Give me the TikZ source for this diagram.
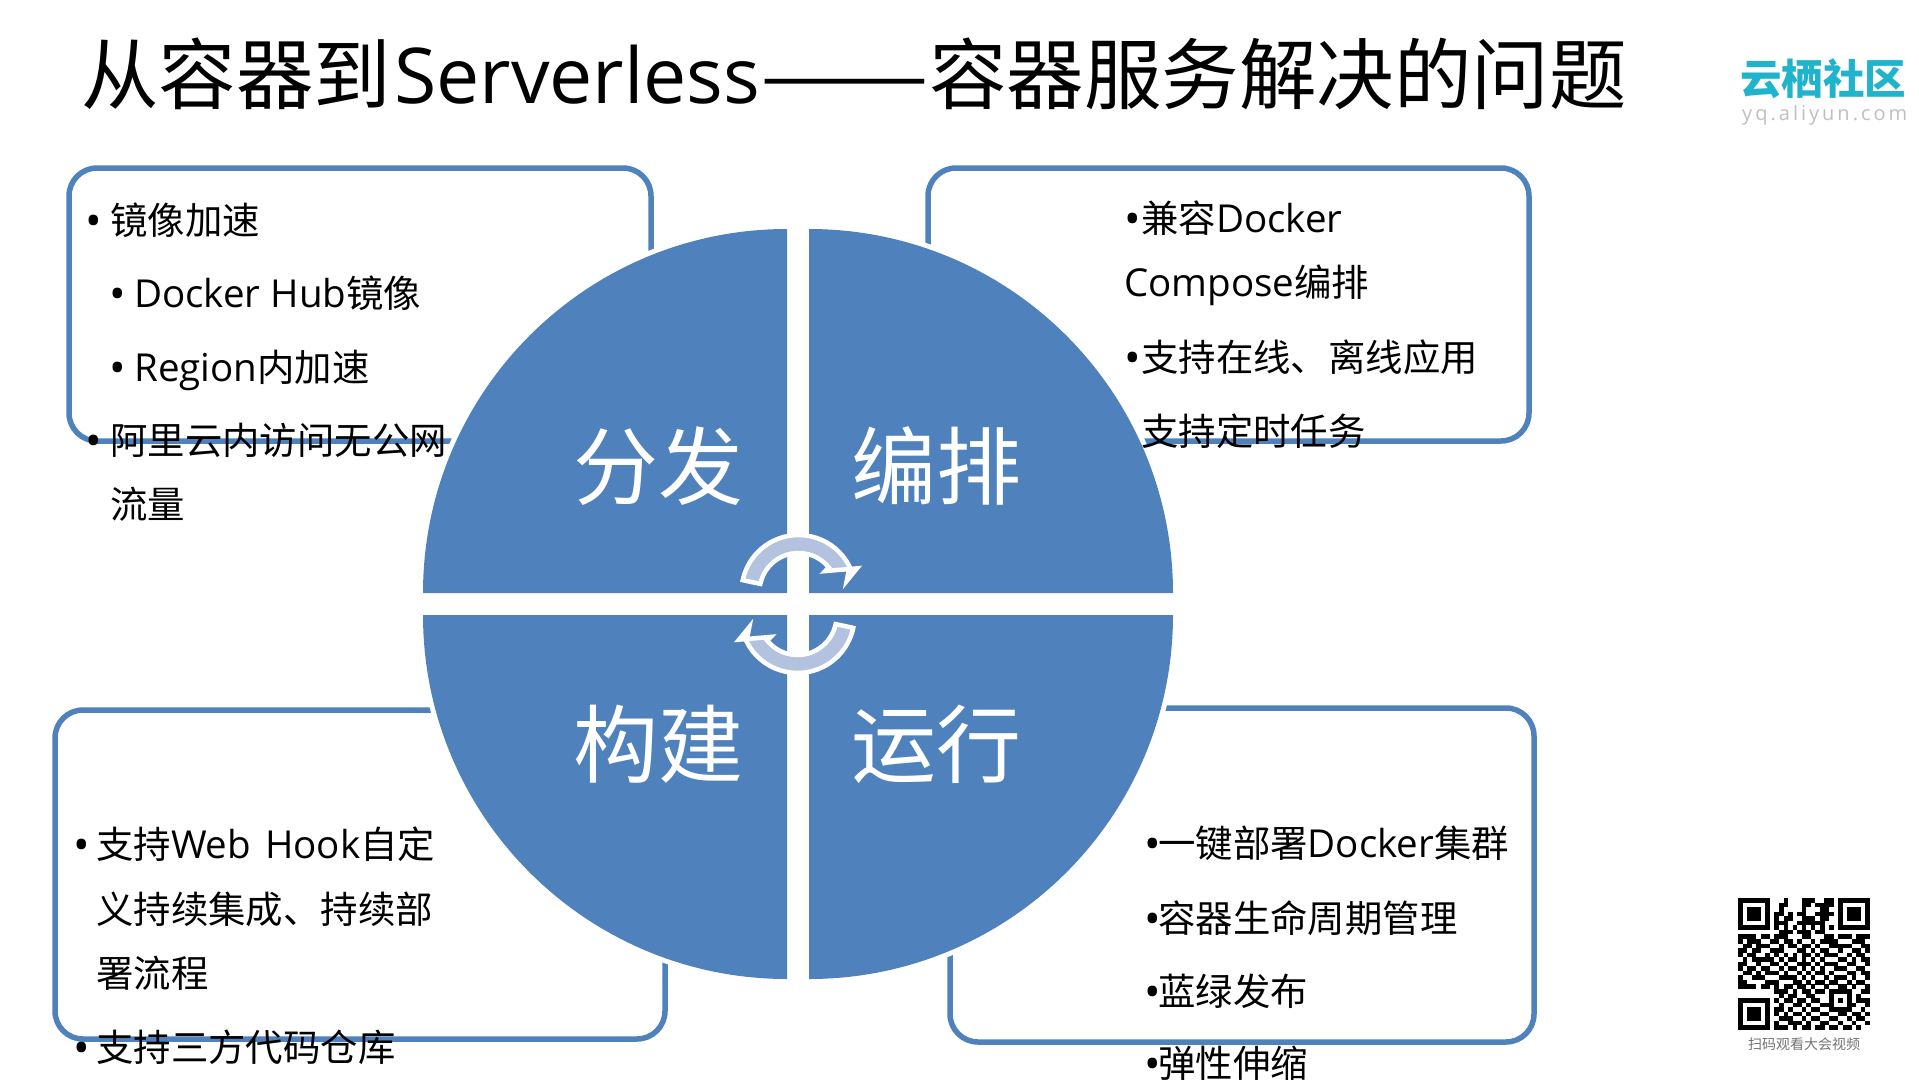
\documentclass[tikz,border=0pt]{standalone}
\usepackage{fontspec}
\setmainfont{Noto Sans CJK SC}
\newfontfamily\latfont{Open Sans}
\newfontfamily\itemfont[Scale=1.03]{Open Sans}
\newfontfamily\logofont[LetterSpace=15]{Open Sans}
\definecolor{boxblue}{HTML}{4F81BD}
\definecolor{ringblue}{HTML}{B3C2DE}
\definecolor{logoteal}{HTML}{1FB3CC}
\newcommand{\fsize}[1]{\fontsize{#1}{#1}\selectfont}
\newcommand{\itembul}[1]{\makebox[#1][l]{\raisebox{-2.6pt}{\latfont\fsize{44}•}}}
\tikzset{
	itemtext/.style={anchor=base west,inner sep=0pt,font=\fsize{37.4}},
	quadtext/.style={inner sep=0pt,text=white,font=\fsize{85}},
	itembox/.style={draw=boxblue,line width=5.5pt,rounded corners=28pt},
	ringarrow/.style={fill=ringblue,draw=white,line width=4.5pt,line join=miter}
}
\begin{document}
\begin{tikzpicture}[x=1pt,y=-1pt]
	\useasboundingbox (0,0) rectangle (1919,1079);
	\node[anchor=base west,inner sep=0pt,font=\fsize{77.5}] (title) at (81,103) {从容器到\hspace{3pt}{\latfont\fsize{77}Serverless}\scalebox{1.3}[1]{——}容器服务解决的问题};
	% boxes behind the circle
	\draw[itembox] (69,168) rectangle (651,441);
	\draw[itembox] (928,168) rectangle (1529,441);
	\draw[itembox] (55,710) rectangle (665,1039);
	\draw[itembox] (950,708) rectangle (1534,1042);
	% four quarters
	\foreach \cx/\cy/\sa in {787/593/180,809/593/270,809/615/0,787/615/90}{
		\fill[white] (\cx,\cy) -- ++(\sa:369) arc[start angle=\sa,delta angle=90,radius=369] -- cycle;
		\fill[boxblue] (\cx,\cy) -- ++(\sa:364) arc[start angle=\sa,delta angle=90,radius=364] -- cycle;
	}
	\node[quadtext] (fenfa) at (658,466) {分发};
	\node[quadtext] (bianpai) at (936,466) {编排};
	\node[quadtext] (goujian) at (658,744) {构建};
	\node[quadtext] (yunxing) at (936,744) {运行};
	% two round arrows
	\foreach \rot in {0,180}{
		\begin{scope}[rotate around={\rot:(798,604)},shift={(798.5,592)}]
			\draw[ringarrow] (192:39) arc[start angle=192,end angle=321,radius=39] -- (322:34) -- (338:63) -- (347:49.5) -- (333.5:57) arc[start angle=333.5,end angle=192,radius=57] -- cycle;
		\end{scope}
	}
	% left top
	\node[itemtext] (jx1) at (85,234) {\itembul{25pt}镜像加速};
	\node[itemtext] (jx2) at (109,307) {\itembul{25pt}{\itemfont Docker Hub}镜像};
	\node[itemtext] (jx3) at (109,381) {\itembul{25pt}{\itemfont Region}内加速};
	\node[itemtext] (jx4) at (85,454) {\itembul{25pt}阿里云内访问无公网};
	\node[itemtext] (jx5) at (110,518) {流量};
	% right top
	\node[itemtext] (bp1) at (1124,232) {\itembul{17pt}兼容{\itemfont Docker}};
	\node[itemtext] (bp2) at (1124,296) {{\itemfont Compose}编排};
	\node[itemtext] (bp3) at (1124,371) {\itembul{17pt}支持在线、离线应用};
	\node[itemtext] (bp4) at (1141,445) {支持定时任务};
	% left bottom
	\node[itemtext] (gj1) at (73,858) {\itembul{23pt}支持{\itemfont Web\hspace{4pt} Hook}自定};
	\node[itemtext] (gj2) at (96,923) {义持续集成、持续部};
	\node[itemtext] (gj3) at (96,987) {署流程};
	\node[itemtext] (gj4) at (73,1061) {\itembul{23pt}支持三方代码仓库};
	% right bottom
	\node[itemtext] (yx1) at (1144,857) {\itembul{14pt}一键部署{\itemfont Docker}集群};
	\node[itemtext] (yx2) at (1144,932) {\itembul{14pt}容器生命周期管理};
	\node[itemtext] (yx3) at (1144,1005) {\itembul{14pt}蓝绿发布};
	\node[itemtext] (yx4) at (1144,1077) {\itembul{14pt}弹性伸缩};
	% logo
	\node[anchor=base west,inner sep=0pt,text=logoteal,font=\fsize{41.5}\bfseries] (logo) at (1740,94) {云栖社区};
	\node[anchor=base west,inner sep=0pt,text=black!25,font=\logofont\fsize{20}] (site) at (1742,120) {yq.aliyun.com};
	% qr code
	\foreach \fx/\fy in {0/0,22/0,0/22}{
		\fill (1738+\fx*4.55,898+\fy*4.55) rectangle ++(31.85,31.85);
		\fill[white] (1738+\fx*4.55+4.55,898+\fy*4.55+4.55) rectangle ++(22.75,22.75);
		\fill (1738+\fx*4.55+9.1,898+\fy*4.55+9.1) rectangle ++(13.65,13.65);
	}
	\foreach \row/\cols in {
		0/{10,14,15,16,19,20},
		1/{9,10,14,15,17,18,19,20},
		2/{9,14,18,19},
		3/{8,9,11,13,14,17,18,19,20},
		4/{8,10,11,14,15,16,18,19},
		5/{8,9,10,13,14,15,16,17,18},
		6/{8,10,12,14,16,18,20},
		7/{9,10,11,13,14,15,17,18},
		8/{0,1,2,3,5,6,8,9,10,14,15,19,20,22,23,24,26,27,28},
		9/{0,2,3,4,7,8,10,11,13,16,18,19,20,21,25,26,27},
		10/{1,2,4,5,6,9,11,12,14,15,17,20,21,22,23,24,27,28},
		11/{0,1,3,4,7,8,9,13,14,16,18,19,22,25,26,28},
		12/{0,2,3,6,8,10,12,14,15,17,19,20,21,24,26,27},
		13/{1,3,4,5,6,7,9,11,12,14,16,18,22,23,25,27,28},
		14/{0,1,4,7,8,10,13,14,15,17,19,20,21,24,25,28},
		15/{0,2,3,5,6,9,11,12,14,16,18,21,22,23,26,27},
		16/{1,2,4,6,7,8,10,13,15,17,18,20,24,25,27,28},
		17/{0,3,4,5,9,10,11,12,14,16,19,21,22,23,25,28},
		18/{0,1,6,7,8,12,13,15,17,18,20,21,24,26,27},
		19/{0,1,2,3,5,6,8,10,11,13,14,16,19,22,23,25,28},
		20/{8,9,10,12,14,15,17,18,20,21,22,23,24,27,28},
		21/{9,11,12,15,16,20,24,26},
		22/{8,10,11,13,14,16,17,20,22,24,26,27,28},
		23/{9,12,13,15,18,19,20,24,25,28},
		24/{8,9,11,14,16,17,20,21,22,23,24,27},
		25/{8,10,12,13,15,18,19,22,23,25,26,28},
		26/{9,10,11,14,16,17,20,21,24,26,27},
		27/{8,11,12,13,15,18,19,22,25,28},
		28/{8,9,10,12,14,15,17,18,20,21,23,24,26}}{
		\foreach \col in \cols
			\fill (1738+\col*4.55,898+\row*4.55) rectangle ++(4.6,4.6);
	}
	\node[inner sep=0pt,text=black!55,font=\fsize{14}] (scan) at (1804,1044) {扫码观看大会视频};
\end{tikzpicture}
\end{document}
